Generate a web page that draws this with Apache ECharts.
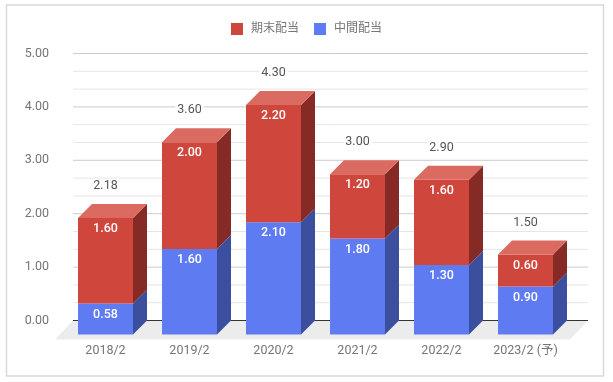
<!DOCTYPE html>
<html>
<head>
<meta charset="utf-8">
<style>html,body{margin:0;padding:0;background:#fff}#c{width:613px;height:382px}</style>
<script src="https://cdn.jsdelivr.net/npm/echarts@6/dist/echarts.min.js"></script>
</head>
<body>
<div id="c"></div>
<script>
const categories = ['2018/2','2019/2','2020/2','2021/2','2022/2','2023/2 (予)'];
const interim = [0.58,1.60,2.10,1.80,1.30,0.90];
const yearEnd = [1.60,2.00,2.20,1.20,1.60,0.60];
const totals = [2.18,3.60,4.30,3.00,2.90,1.50];
const majorLevels = [1,2,3,4,5];
const minorLevels = [1/3,2/3,4/3,5/3,7/3,8/3,10/3,11/3,13/3,14/3];

const DEPTH = 14;
const FONT = 'Roboto, "Noto Sans CJK JP", sans-serif';
const RED = {front:'#cf463c', top:'#db6a60', side:'#852a25'};
const BLUE = {front:'#5f7bf2', side:'#3c4f9f'};

function segment(colors, withTop) {
  return function (params, api) {
    const i = api.value(0), lo = api.value(1), hi = api.value(2);
    const c0 = api.coord([i, lo]), c1 = api.coord([i, hi]);
    const w = api.size([1, 0])[0] * 55 / 84;
    const x = c0[0] - w / 2, yB = c0[1] + DEPTH, yT = c1[1] + DEPTH;
    const kids = [
      {type:'rect', shape:{x:x, y:yT, width:w, height:yB - yT}, style:{fill:colors.front}},
      {type:'polygon', shape:{points:[[x+w,yT],[x+w+DEPTH,yT-DEPTH],[x+w+DEPTH,yB-DEPTH],[x+w,yB]]}, style:{fill:colors.side}},
      {type:'text', style:{x:x+w/2, y:yT+11, text:(hi-lo).toFixed(2), fill:'#fff', font:'500 12.5px '+FONT, align:'center', verticalAlign:'middle'}, z2:5}
    ];
    if (withTop) kids.push({type:'polygon', shape:{points:[[x,yT],[x+DEPTH,yT-DEPTH],[x+w+DEPTH,yT-DEPTH],[x+w,yT]]}, style:{fill:colors.top}});
    return {type:'group', children:kids};
  };
}

function guideItem(color) {
  return function (params, api) {
    const y = api.coord([0, api.value(1)])[1];
    const cs = params.coordSys;
    return {type:'line', shape:{x1:cs.x+9.5, y1:y, x2:cs.x+cs.width+20.5, y2:y}, style:{stroke:color, lineWidth:1}};
  };
}

const chart = echarts.init(document.getElementById('c'), null, {renderer:'canvas'});
chart.setOption({
  animation:false,
  backgroundColor:'#fff',
  textStyle:{fontFamily:FONT},
  graphic:[{type:'rect', shape:{x:6.5,y:5,width:597,height:371}, style:{fill:'none',stroke:'#d9d9d9',lineWidth:1.5}, silent:true, z:-1}],
  legend:{
    top:18, left:226, icon:'rect', itemWidth:12, itemHeight:12, itemGap:15,
    selectedMode:false,
    textStyle:{color:'#757575', fontSize:12, fontFamily:FONT, padding:[0,0,0,3]},
    data:['期末配当','中間配当']
  },
  grid:{left:63.5, top:53.5, width:504, height:267, containLabel:false},
  xAxis:{
    type:'category', data:categories,
    axisLine:{show:false}, axisTick:{show:false}, splitLine:{show:false},
    axisLabel:{color:'#757575', fontSize:12.5, fontFamily:FONT, margin:24.5, interval:0}
  },
  yAxis:{
    type:'value', min:0, max:5, interval:1,
    axisLine:{show:false}, axisTick:{show:false}, splitLine:{show:false},
    axisLabel:{color:'#757575', fontSize:12.5, fontFamily:FONT, margin:14.5, formatter:v=>v.toFixed(2)}
  },
  series:[
    {type:'custom', name:'floor', silent:true, z:1, data:[[0,0]],
      renderItem:(params,api)=>{
        const y = api.coord([0,api.value(1)])[1], cs = params.coordSys;
        return {type:'group', children:[
          {type:'polygon', shape:{points:[[cs.x-8.5,y+19],[cs.x+9.5,y],[cs.x+cs.width+20.5,y],[cs.x+cs.width+2.5,y+19]]}, style:{fill:'#ececec'}},
          {type:'line', shape:{x1:cs.x+9.5,y1:y,x2:cs.x+cs.width+20.5,y2:y}, style:{stroke:'#333',lineWidth:1}}
        ]};
      }},
    {type:'custom', name:'minor', silent:true, z:2, data:minorLevels.map(v=>[0,v]), renderItem:guideItem('#e6e6e6')},
    {type:'custom', name:'major', silent:true, z:3, data:majorLevels.map(v=>[0,v]), renderItem:guideItem('#cccccc')},
    {type:'custom', name:'中間配当', z:5, itemStyle:{color:BLUE.front}, silent:true,
      encode:{x:0,y:[1,2]},
      data:interim.map((v,i)=>[i,0,v]), renderItem:segment(BLUE,false)},
    {type:'custom', name:'期末配当', z:5, itemStyle:{color:RED.front}, silent:true,
      encode:{x:0,y:[1,2]},
      data:yearEnd.map((v,i)=>[i,interim[i],interim[i]+v]), renderItem:segment(RED,true)},
    {type:'custom', name:'total', silent:true, z:6,
      data:totals.map((v,i)=>[i,v]),
      renderItem:(params,api)=>{
        const c = api.coord([api.value(0),api.value(1)]);
        return {type:'text', style:{x:c[0], y:c[1]-18, text:api.value(1).toFixed(2), fill:'#555', font:'12.5px '+FONT, align:'center', verticalAlign:'middle', backgroundColor:'#fff', padding:[1,2]}};
      }}
  ]
});
</script>
</body>
</html>
